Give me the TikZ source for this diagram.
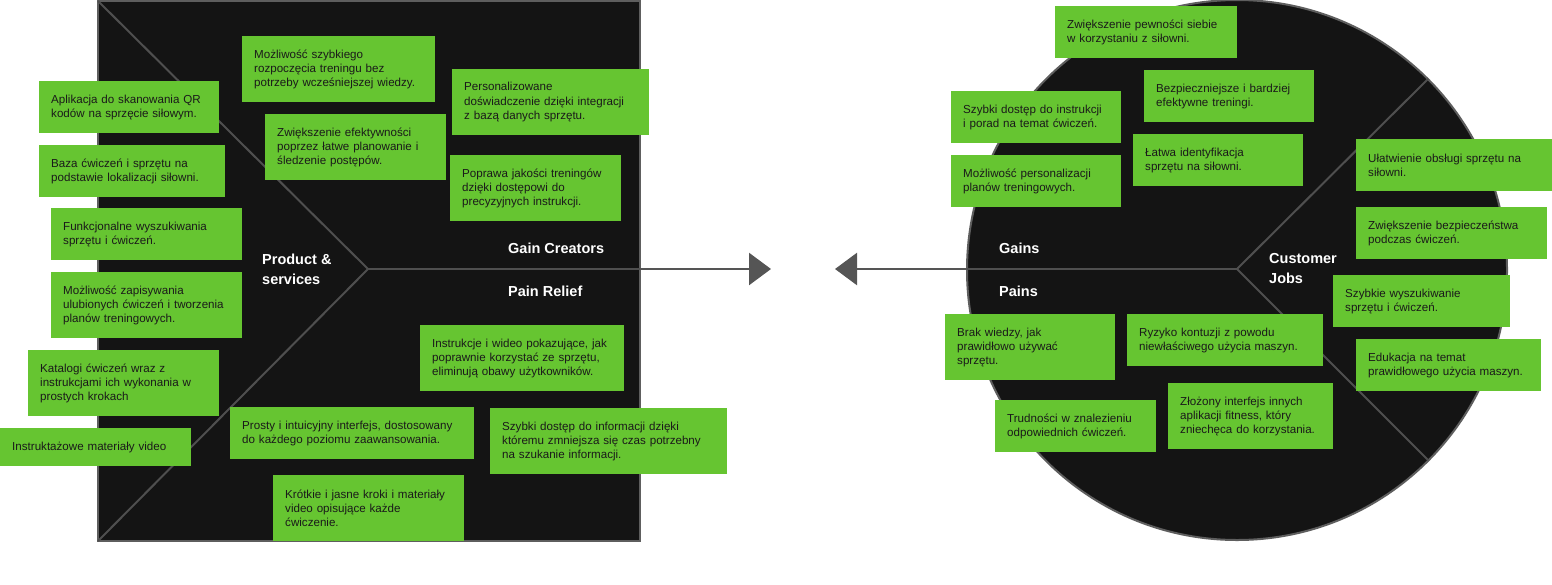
\documentclass[tikz,border=0pt]{standalone}
\usepackage{fontspec}
\setmainfont{Liberation Sans}
\usetikzlibrary{arrows.meta}
\definecolor{bgdark}{HTML}{141414}
\definecolor{rimgray}{HTML}{5E5E5E}
\definecolor{linegray}{HTML}{4F4F4F}
\definecolor{arrowgray}{HTML}{555555}
\definecolor{cardgreen}{HTML}{66C531}
\definecolor{cardtext}{HTML}{1A1A1A}
\tikzset{
  card/.style={fill=cardgreen, text=cardtext, inner xsep=12pt, inner ysep=0pt,
    align=left, anchor=north west, font=\fontsize{11.6}{14.2}\selectfont},
  lbl/.style={text=white, anchor=west, align=left, inner sep=0pt,
    font=\bfseries\fontsize{14.5}{20}\selectfont},
  divider/.style={draw=linegray, line width=2pt},
  flowarrow/.style={draw=arrowgray, line width=2.5pt, -{Triangle[length=22pt,width=32pt]}}
}
\begin{document}
\begin{tikzpicture}[x=1pt,y=-1pt]
\useasboundingbox (0,0) rectangle (1552,584);
% value proposition square
\draw[fill=bgdark, draw=rimgray, line width=2pt] (98,1) rectangle (640,541);
\coordinate (sqTL) at (98,1);
\coordinate (sqBL) at (98,541);
\coordinate (sqV) at (368,269);
\coordinate (sqR) at (640,269);
\draw[divider] (sqTL) -- (sqV) -- (sqBL);
\draw[divider] (sqV) -- (sqR);
\coordinate (arrR) at (771,269);
\draw[flowarrow] (sqR) -- (arrR);
% customer profile circle
\draw[fill=bgdark, draw=rimgray, line width=2pt] (1237,270) circle[radius=270];
\coordinate (ciL) at (967,269);
\coordinate (ciV) at (1237,269);
\coordinate (ciU) at (1428,79);
\coordinate (ciD) at (1428,460);
\draw[divider] (ciL) -- (ciV);
\draw[divider] (ciU) -- (ciV) -- (ciD);
\coordinate (arrL) at (835,269);
\draw[flowarrow] (ciL) -- (arrL);
% labels
\node[lbl] (lprod) at (262,269) {Product \&\\services};
\node[lbl] (lgc) at (508,248) {Gain Creators};
\node[lbl] (lpr) at (508,291) {Pain Relief};
\node[lbl] (lgains) at (999,248) {Gains};
\node[lbl] (lpains) at (999,291) {Pains};
\node[lbl] (lcj) at (1269,269) {Customer\\Jobs};
% left cards
\node[card, text width=169pt, minimum height=66pt] (m1) at (242,36) {Możliwość szybkiego\\rozpoczęcia treningu bez\\potrzeby wcześniejszej wiedzy.};
\node[card, text width=156pt, minimum height=52pt] (p1) at (39,81) {Aplikacja do skanowania QR\\kodów na sprzęcie siłowym.};
\node[card, text width=157pt, minimum height=66pt] (m2) at (265,114) {Zwiększenie efektywności\\poprzez łatwe planowanie i\\śledzenie postępów.};
\node[card, text width=162pt, minimum height=52pt] (p2) at (39,145) {Baza ćwiczeń i sprzętu na\\podstawie lokalizacji siłowni.};
\node[card, text width=167pt, minimum height=52pt] (p3) at (51,208) {Funkcjonalne wyszukiwania\\sprzętu i ćwiczeń.};
\node[card, text width=167pt, minimum height=66pt] (p4) at (51,272) {Możliwość zapisywania\\ulubionych ćwiczeń i tworzenia\\planów treningowych.};
\node[card, text width=167pt, minimum height=66pt] (p5) at (28,350) {Katalogi ćwiczeń wraz z\\instrukcjami ich wykonania w\\prostych krokach};
\node[card, text width=167pt, minimum height=38pt] (p6) at (0,428) {Instruktażowe materiały video};
\node[card, text width=220pt, minimum height=52pt] (r1) at (230,407) {Prosty i intuicyjny interfejs, dostosowany\\do każdego poziomu zaawansowania.};
\node[card, text width=167pt, minimum height=66pt] (r2) at (273,475) {Krótkie i jasne kroki i materiały\\video opisujące każde\\ćwiczenie.};
\node[card, text width=173pt, minimum height=66pt] (g1) at (452,69) {Personalizowane\\doświadczenie dzięki integracji\\z bazą danych sprzętu.};
\node[card, text width=147pt, minimum height=66pt] (g2) at (450,155) {Poprawa jakości treningów\\dzięki dostępowi do\\precyzyjnych instrukcji.};
\node[card, text width=180pt, minimum height=66pt] (r3) at (420,325) {Instrukcje i wideo pokazujące, jak\\poprawnie korzystać ze sprzętu,\\eliminują obawy użytkowników.};
\node[card, text width=213pt, minimum height=66pt] (r4) at (490,408) {Szybki dostęp do informacji dzięki\\któremu zmniejsza się czas potrzebny\\na szukanie informacji.};
% right cards
\node[card, text width=158pt, minimum height=52pt] (ga1) at (1055,6) {Zwiększenie pewności siebie\\w korzystaniu z siłowni.};
\node[card, text width=146pt, minimum height=52pt] (ga2) at (1144,70) {Bezpieczniejsze i bardziej\\efektywne treningi.};
\node[card, text width=146pt, minimum height=52pt] (ga3) at (951,91) {Szybki dostęp do instrukcji\\i porad na temat ćwiczeń.};
\node[card, text width=146pt, minimum height=52pt] (ga4) at (1133,134) {Łatwa identyfikacja\\sprzętu na siłowni.};
\node[card, text width=146pt, minimum height=52pt] (ga5) at (951,155) {Możliwość personalizacji\\planów treningowych.};
\node[card, text width=146pt, minimum height=66pt] (pa1) at (945,314) {Brak wiedzy, jak\\prawidłowo używać\\sprzętu.};
\node[card, text width=172pt, minimum height=52pt] (pa2) at (1127,314) {Ryzyko kontuzji z powodu\\niewłaściwego użycia maszyn.};
\node[card, text width=137pt, minimum height=52pt] (pa3) at (995,400) {Trudności w znalezieniu\\odpowiednich ćwiczeń.};
\node[card, text width=141pt, minimum height=66pt] (pa4) at (1168,383) {Złożony interfejs innych\\aplikacji fitness, który\\zniechęca do korzystania.};
\node[card, text width=172pt, minimum height=52pt] (cj1) at (1356,139) {Ułatwienie obsługi sprzętu na\\siłowni.};
\node[card, text width=167pt, minimum height=52pt] (cj2) at (1356,207) {Zwiększenie bezpieczeństwa\\podczas ćwiczeń.};
\node[card, text width=153pt, minimum height=52pt] (cj3) at (1333,275) {Szybkie wyszukiwanie\\sprzętu i ćwiczeń.};
\node[card, text width=161pt, minimum height=52pt] (cj4) at (1356,339) {Edukacja na temat\\prawidłowego użycia maszyn.};
\end{tikzpicture}
\end{document}
